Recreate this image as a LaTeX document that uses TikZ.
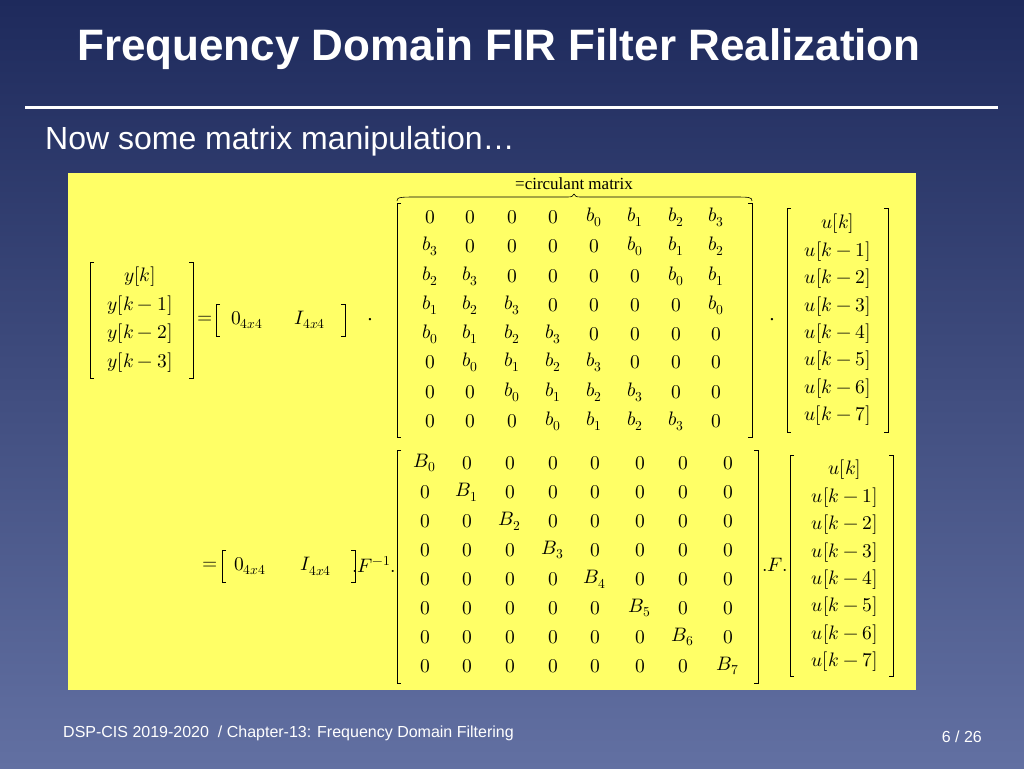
\documentclass[tikz,border=0pt]{standalone}
\usepackage{fontspec}
\setmainfont{Liberation Serif}
\newfontfamily\hdr{Liberation Sans}
\usepackage{unicode-math}
\setmathfont{Latin Modern Math}
\begin{document}
\begin{tikzpicture}[x=1pt,y=-1pt,
  ent/.style={font=\fontsize{19.5}{19.5}\selectfont, inner sep=0pt, anchor=center},
  brk/.style={draw=black, line width=0.6pt},
  tx/.style={inner sep=0pt, text=white}]
\definecolor{bgtop}{HTML}{1E2A5C}\definecolor{bgbot}{HTML}{6270A2}
\definecolor{yel}{HTML}{FFFF66}
\shade[top color=bgtop,bottom color=bgbot] (0,0) rectangle (1024,768);
\useasboundingbox (0,0) rectangle (1024,768);
\node[tx,anchor=west,font=\hdr\bfseries\fontsize{44}{44}\selectfont] (title) at (77,49) {Frequency Domain FIR Filter Realization};
\draw[white,line width=3pt] (25,107) -- (998,107);
\node[tx,anchor=west,font=\hdr\fontsize{32}{32}\selectfont] (sub) at (45,141) {Now some matrix manipulation…};
\fill[yel] (68,173) rectangle (916,690);
\tikzset{pics/lb/.style={code={\draw[brk] (4,0)--(0,0)--(0,#1)--(4,#1);}},
         pics/rb/.style={code={\draw[brk] (-4,0)--(0,0)--(0,#1)--(-4,#1);}}}
\def\cols{{430,470,512,553,594,635,676,716}}
\def\rowsA{{217,246,276,305,334,362,392,421}}
\foreach \r [count=\i from 0] in {
 {0,0,0,0,b_0,b_1,b_2,b_3},{b_3,0,0,0,0,b_0,b_1,b_2},{b_2,b_3,0,0,0,0,b_0,b_1},{b_1,b_2,b_3,0,0,0,0,b_0},
 {b_0,b_1,b_2,b_3,0,0,0,0},{0,b_0,b_1,b_2,b_3,0,0,0},{0,0,b_0,b_1,b_2,b_3,0,0},{0,0,0,b_0,b_1,b_2,b_3,0}}{
  \foreach \e [count=\j from 0] in \r {
    \pgfmathsetmacro\xx{\cols[\j]}\pgfmathsetmacro\yy{\rowsA[\i]}
    \node[ent] (a\i\j) at (\xx,\yy) {$\e$};}}
\pic at (397,203) {lb=234}; \pic at (752,203) {rb=234};
\draw[brk] (397,201) .. controls (397,197) and (400,197) .. (420,197) -- (568,197) .. controls (572,197) and (573,196) .. (574,194)
  .. controls (575,196) and (576,197) .. (580,197) -- (730,197) .. controls (750,197) and (752,197) .. (752,201);
\node[ent,font=\fontsize{17}{17}\selectfont] (circ) at (574,184) {=circulant matrix};
\foreach \s [count=\i from 0] in {{u[k]},{u[k-1]},{u[k-2]},{u[k-3]},{u[k-4]},{u[k-5]},{u[k-6]},{u[k-7]}}{
  \pgfmathsetmacro\yy{224+27.4*\i}\node[ent] (u\i) at (838,\yy) {$\s$};
  \pgfmathsetmacro\yy{470+27.4*\i}\node[ent] (v\i) at (845,\yy) {$\s$};}
\pic at (787,208) {lb=224}; \pic at (888,208) {rb=224};
\pic at (790,455) {lb=221}; \pic at (893,455) {rb=221};
\foreach \s [count=\i from 0] in {{y[k]},{y[k-1]},{y[k-2]},{y[k-3]}}{
  \pgfmathsetmacro\yy{277+28.5*\i}\node[ent] (y\i) at (140,\yy) {$\s$};}
\pic at (90,262) {lb=116}; \pic at (193,262) {rb=116};
\node[ent] (eq1) at (205,320) {$=$};
\pic at (216,304) {lb=32}; \pic at (345,304) {rb=32};
\node[ent] (z1) at (247,320) {$0_{4x4}$};
\node[ent] (i1) at (310,320) {$I_{4x4}$};
\node[ent] (d1) at (370,320) {.};
\node[ent] (d2) at (772,320) {.};
\def\colsB{{425,467,510,553,595,640,683,728}}
\foreach \i in {0,...,7}{\foreach \j in {0,...,7}{
  \pgfmathsetmacro\xx{\colsB[\j]}\pgfmathsetmacro\yy{463+29*\i}
  \ifnum\i=\j \node[ent] (b\i\j) at (\xx,\yy) {$B_{\i}$};\else\node[ent] (b\i\j) at (\xx,\yy) {$0$};\fi}}
\pic at (397,450) {lb=233}; \pic at (758,450) {rb=233};
\node[ent] (eq2) at (210,566) {$=$};
\pic at (222,550) {lb=32}; \pic at (355,550) {rb=32};
\node[ent] (z2) at (250,566) {$0_{4x4}$};
\node[ent] (i2) at (316,566) {$I_{4x4}$};
\node[ent] (f1) at (374,564) {$.F^{-1}.$};
\node[ent] (f2) at (775,565) {$.F.$};
\node[tx,anchor=west,font=\hdr\fontsize{16}{17}\selectfont] (foot) at (63,733) {DSP-CIS 2019-2020~~/ Chapter-13: Frequency Domain Filtering};
\node[tx,anchor=east,font=\hdr\fontsize{16}{17}\selectfont] (pg) at (982,737) {6 / 26};
\end{tikzpicture}
\end{document}
